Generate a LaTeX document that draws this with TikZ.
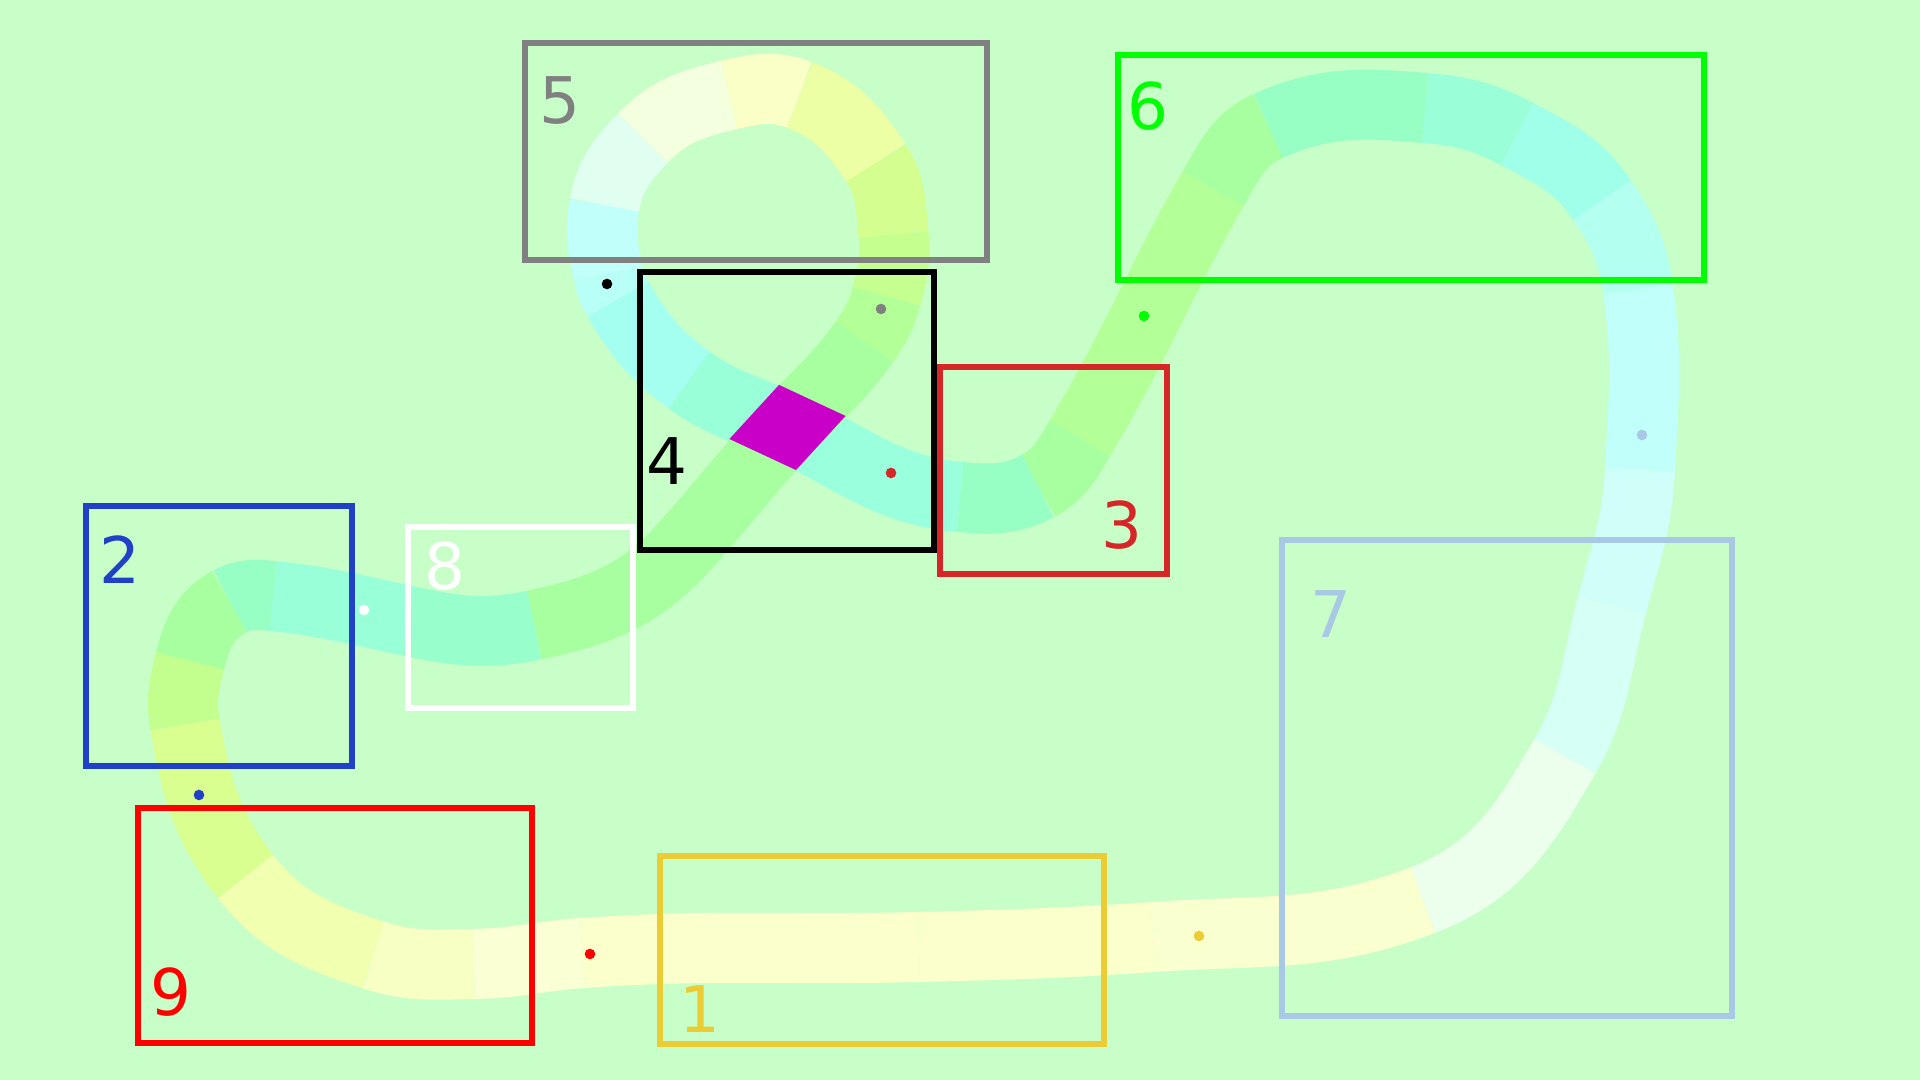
\documentclass[tikz,border=0pt]{standalone}
\usepackage{fontspec}
\setmainfont{DejaVu Sans}
\usetikzlibrary{calc}

\definecolor{field}{HTML}{C8FFC8}
\definecolor{cross}{HTML}{C800C8}
\definecolor{leaf}{HTML}{A8FFA0}
\definecolor{rimthree}{HTML}{D62728}
\definecolor{rimseven}{HTML}{A8C8E6}
\definecolor{rimone}{HTML}{ECCC34}
\definecolor{rimtwo}{HTML}{2040C8}

\tikzset{
  tile/.style={line width=0.7cm},
  frame/.style={line width=0.055cm},
  num/.style={inner sep=0pt, anchor=base, font=\fontsize{18.3pt}{22pt}\selectfont},
}

\begin{document}
\begin{tikzpicture}[x=0.01cm, y=0.01cm]
  \path[use as bounding box, fill=field] (0,0) rectangle (1920,1080);

  % centre line of the track
  \coordinate (p1) at (1423,180);
  \coordinate (p2) at (1565,324);
  \coordinate (p3) at (1612,475);
  \coordinate (p4) at (1640,610);
  \coordinate (p5) at (1638,791);
  \coordinate (p6) at (1602,880);
  \coordinate (p7) at (1517,946);
  \coordinate (p8) at (1425,972);
  \coordinate (p9) at (1268,954);
  \coordinate (p10) at (1213,891);
  \coordinate (p11) at (1080,642);
  \coordinate (p12) at (1038,594);
  \coordinate (p13) at (960,583);
  \coordinate (p14) at (787.5,652.5);
  \coordinate (p15) at (689,700);
  \coordinate (p16) at (618,781);
  \coordinate (p17) at (608,807);
  \coordinate (p18) at (604.5,875);
  \coordinate (p19) at (643,942);
  \coordinate (p20) at (729,985);
  \coordinate (p21) at (799.5,985);
  \coordinate (p22) at (876,917);
  \coordinate (p23) at (893.5,845.5);
  \coordinate (p24) at (886.5,783.5);
  \coordinate (p25) at (864.5,738.5);
  \coordinate (p26) at (684,533);
  \coordinate (p27) at (534.5,455);
  \coordinate (p28) at (408.5,459);
  \coordinate (p29) at (273,484);
  \coordinate (p30) at (229.5,478.5);
  \coordinate (p31) at (190,419);
  \coordinate (p32) at (185,355.5);
  \coordinate (p33) at (245.5,203.5);
  \coordinate (p34) at (373.5,125);
  \coordinate (p35) at (474,116);
  \coordinate (p36) at (582.5,127);
  \coordinate (p37) at (919,133);
  \coordinate (p38) at (1153,143);

  % tiles
  \foreach \a/\b/\o/\i/\col in {
      p1/p2/21/240/ECFFEC, p2/p3/60/255/D6FFF6, p3/p4/75/267/D0FFFA,
      p4/p5/87/278/C0FFFA, p5/p6/98/304/B3FFF0, p6/p7/124/332/A0FFE8,
      p7/p8/152/355/9AFFD8, p8/p9/175/24/98FFC4, p9/p10/204/60/A8FFA0,
      p10/p11/240/59/B3FF98, p11/p12/239/28/A8FFA0, p12/p13/208/355/98FFC4,
      p13/p14/175/335/9AFFDC, p14/p15/155/324/98FFD8, p15/p16/144/300/A4FFF0,
      p16/p17/120/282/B8FFF8, p17/p18/102/260/C0FFFA, p18/p19/80/226/E0FFF0,
      p19/p20/46/193/F4FFE0, p20/p21/13/159/FAFFC8, p21/p22/-21/123.5/ECFFA4,
      p22/p23/-56.5/96/D4FF90, p23/p24/-84/75.5/C4FF90, p24/p25/-104.5/55/B3FF98,
      p27/p28/-168/348/98FFCC, p28/p29/168/354/98FFD8, p29/p30/174/28/98FFC4,
      p30/p31/208/76/A8FFA0, p31/p32/256/100/C3FF8F, p32/p33/280/128/D8FF90,
      p33/p34/-52/162/F0FFB0, p34/p35/-18/181/F8FFC4, p35/p36/1/184/FBFFD4,
      p36/p37/4/181.5/FAFFCC, p37/p38/1.5/184/FBFFCC, p38/p1/4/201/FAFFD0}{
    \definecolor{tilecol}{HTML}{\col}
    \draw[tile, tilecol] (\a) to[out=\o, in=\i] (\b);
  }
  \draw[tile, leaf] (p25) to[out=-125, in=47.5] (p14)
    to[out=-132.5, in=48] (p26) to[out=-132, in=12] (p27);

  % where the track crosses itself
  \begin{scope}
    \clip ($(p14)+(155:90)+(65:35)$) -- ($(p14)+(-25:90)+(65:35)$)
      -- ($(p14)+(-25:90)+(-115:35)$) -- ($(p14)+(155:90)+(-115:35)$) -- cycle;
    \draw[tile, cross] ($(p14)+(47.5:90)$) -- ($(p14)+(-132.5:90)$);
  \end{scope}

  % frames
  \draw[frame, gray] (525,820) rectangle (987,1037);
  \draw[frame, black] (640,530) rectangle (934,808);
  \draw[frame, rimthree] (940,506) rectangle (1167,713);
  \draw[frame, green] (1118,800) rectangle (1704,1025);
  \draw[frame, rimseven] (1282,64) rectangle (1732,540);
  \draw[frame, rimone] (660,36) rectangle (1104,224);
  \draw[frame, rimtwo] (86,314) rectangle (352,574);
  \draw[frame, white] (408,372) rectangle (633,553);
  \draw[frame, red] (138,37) rectangle (532,272);

  % dots
  \fill[black] (607,796) circle[radius=5.3];
  \fill[gray] (881,771) circle[radius=5.3];
  \fill[rimthree] (891,607) circle[radius=5.3];
  \fill[green] (1144,764) circle[radius=5.3];
  \fill[rimseven] (1642,645) circle[radius=5.3];
  \fill[white] (364,470) circle[radius=5.3];
  \fill[rimtwo] (199,285) circle[radius=5.3];
  \fill[red] (590,126) circle[radius=5.3];
  \fill[rimone] (1199,144) circle[radius=5.3];

  % labels
  \node[num, gray] (n5) at (560,956) {5};
  \node[num, black] (n4) at (667,595) {4};
  \node[num, rimthree] (n3) at (1122,531) {3};
  \node[num, green] (n6) at (1148,950) {6};
  \node[num, rimseven] (n7) at (1331,442) {7};
  \node[num, rimtwo] (n2) at (120,496) {2};
  \node[num, white] (n8) at (445,490) {8};
  \node[num, red] (n9) at (171,64) {9};
  \node[num, rimone] (n1) at (700,47) {1};
\end{tikzpicture}
\end{document}
